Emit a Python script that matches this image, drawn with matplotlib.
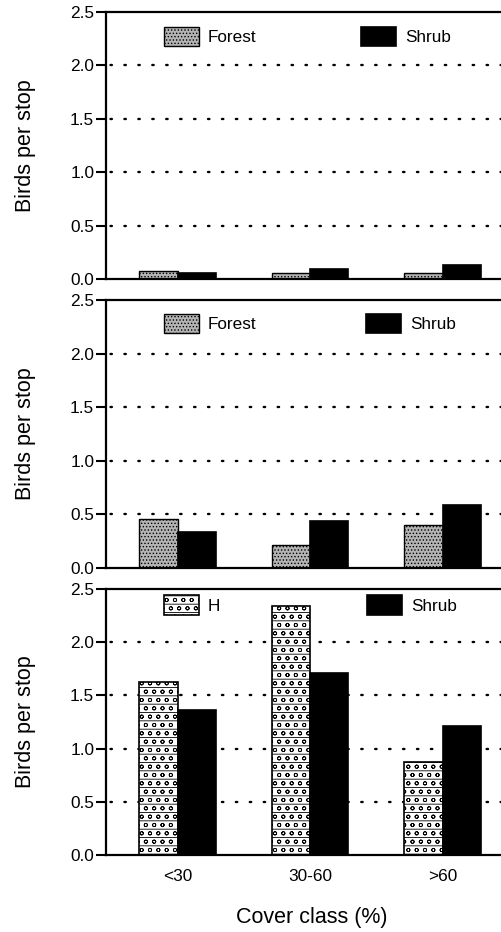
import matplotlib
matplotlib.use("Agg")
import matplotlib.pyplot as plt
import numpy as np
from matplotlib.patches import Patch

plt.rcParams['font.family'] = ['Liberation Sans', 'DejaVu Sans']
plt.rcParams['hatch.linewidth'] = 0.6

categories = ['<30', '30-60', '>60']
yticks = [0.0, 0.5, 1.0, 1.5, 2.0, 2.5]
ytick_labels = ['0.0', '0.5', '1.0', '1.5', '2.0', '2.5']

forest_top = [0.075, 0.06, 0.055]
shrub_top = [0.06, 0.09, 0.13]
forest_mid = [0.46, 0.215, 0.40]
shrub_mid = [0.335, 0.44, 0.59]
h_bot = [1.63, 2.34, 0.87]
shrub_bot = [1.36, 1.71, 1.21]

W, H = 501, 932
fig = plt.figure(figsize=(W / 100, H / 100), dpi=100)

left_px = 106
panels = [(12, 279), (300, 568), (589, 855)]
axw = 1.005 - left_px / W

x = np.arange(len(categories))
bw = 0.29

def make_ax(top, bot):
    ax = fig.add_axes([left_px / W, 1 - bot / H, axw, (bot - top) / H])
    ax.set_xlim(-0.54, 2.46)
    ax.set_ylim(0, 2.5)
    ax.set_yticks(yticks)
    ax.set_yticklabels(ytick_labels, fontsize=12.4)
    ax.tick_params(axis='y', direction='out', length=7, width=1.5, pad=1.5)
    ax.tick_params(axis='x', length=0)
    for s in ['left', 'bottom', 'top']:
        ax.spines[s].set_linewidth(1.6)
    ax.spines['right'].set_visible(False)
    for yv in [0.5, 1.0, 1.5, 2.0]:
        ax.axhline(yv, color='black', linewidth=1.7, linestyle=(4, (0.6, 5.3)),
                   dash_capstyle='round', zorder=0.5)
    ax.set_ylabel('Birds per stop', fontsize=15.5)
    ax.yaxis.set_label_coords(-0.176, 0.5)
    return ax

forest_style = dict(facecolor='#b4b4b4', edgecolor='black', hatch='.....', linewidth=1.0)
shrub_style = dict(facecolor='black', edgecolor='black', linewidth=1.2)
h_style = dict(facecolor='white', edgecolor='black', hatch='--oo', linewidth=1.2)

def legend(ax, first_label, first_style, yc, colspace):
    handles = [Patch(**first_style, label=first_label), Patch(**shrub_style, label='Shrub')]
    ax.legend(handles=handles, loc='center left', bbox_to_anchor=(0.146, yc), ncol=2,
              frameon=False, fontsize=12.3, handlelength=2.05, handleheight=1.35,
              handletextpad=0.53, columnspacing=colspace, borderpad=0, borderaxespad=0)

# Panel 1
ax1 = make_ax(*panels[0])
ax1.bar(x - bw / 2, forest_top, bw, **forest_style, zorder=2)
ax1.bar(x + bw / 2, shrub_top, bw, **shrub_style, zorder=2)
ax1.set_xticks(x)
ax1.set_xticklabels([])
legend(ax1, 'Forest', forest_style, 0.908, 6.1)

# Panel 2
ax2 = make_ax(*panels[1])
ax2.bar(x - bw / 2, forest_mid, bw, **forest_style, zorder=2)
ax2.bar(x + bw / 2, shrub_mid, bw, **shrub_style, zorder=2)
ax2.set_xticks(x)
ax2.set_xticklabels([])
legend(ax2, 'Forest', forest_style, 0.912, 6.4)

# Panel 3
ax3 = make_ax(*panels[2])
ax3.bar(x - bw / 2, h_bot, bw, **h_style, zorder=2)
ax3.bar(x + bw / 2, shrub_bot, bw, **shrub_style, zorder=2)
ax3.set_xticks(x)
ax3.set_xticklabels(categories, fontsize=12.4)
ax3.tick_params(axis='x', pad=10)
ax3.set_xlabel('Cover class (%)', fontsize=15.5)
ax3.xaxis.set_label_coords(0.518, -0.195)
legend(ax3, 'H', h_style, 0.94, 8.6)

fig.savefig('out.png', dpi=100)
